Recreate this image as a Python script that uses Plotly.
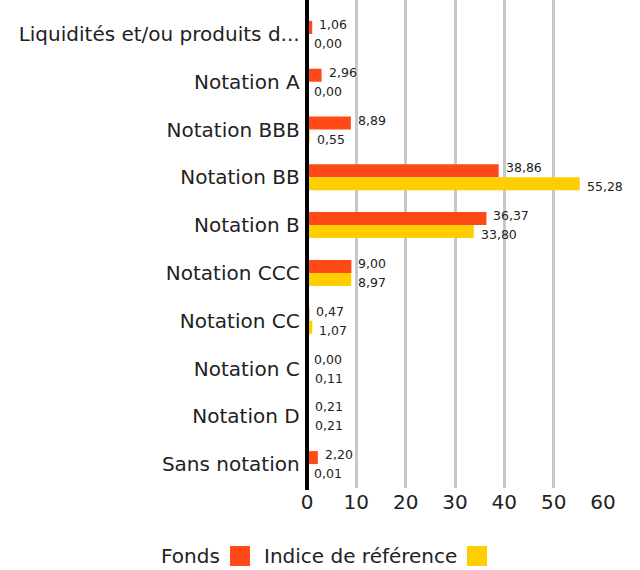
import plotly.graph_objects as go

categories = ["Liquidités et/ou produits d...", "Notation A", "Notation BBB", "Notation BB",
              "Notation B", "Notation CCC", "Notation CC", "Notation C", "Notation D", "Sans notation"]
fonds = [1.06, 2.96, 8.89, 38.86, 36.37, 9.00, 0.47, 0.00, 0.21, 2.20]
indice = [0.00, 0.00, 0.55, 55.28, 33.80, 8.97, 1.07, 0.11, 0.21, 0.01]
series_names = ["Fonds", "Indice de référence"]
colors = ["#FF4A17", "#FFCE00"]
x_ticks = [0, 10, 20, 30, 40, 50, 60]

FONT = "DejaVu Sans"
TXT = "#222222"

def fr(v):
    return f"{v:.2f}".replace(".", ",")

fig = go.Figure()
for name, vals, col in zip(series_names, [fonds, indice], colors):
    fig.add_trace(go.Bar(
        y=categories, x=vals, name=name, orientation="h",
        marker=dict(color=col, line=dict(width=0)),
        showlegend=False, hoverinfo="x+y",
    ))

# value labels next to each bar
for vals, ys in zip([fonds, indice], [9.5, -9.5]):
    for cat, v in zip(categories, vals):
        fig.add_annotation(x=v, y=cat, xref="x", yref="y", text=fr(v), showarrow=False,
                           xanchor="left", yanchor="middle", xshift=5, yshift=ys,
                           font=dict(size=12.5, color=TXT, family=FONT))

fig.update_layout(
    width=640, height=570,
    margin=dict(l=307, r=37, t=0, b=82),
    paper_bgcolor="white", plot_bgcolor="white",
    barmode="group", bargap=0.456, bargroupgap=0,
    font=dict(family=FONT, size=20, color=TXT),
)
fig.update_xaxes(range=[0, 60], tickvals=x_ticks, ticktext=[str(t) for t in x_ticks],
                 showgrid=True, gridcolor="#c8c8c8", gridwidth=3,
                 zeroline=False, showline=False, ticks="",
                 tickfont=dict(size=20, color=TXT))
fig.update_yaxes(range=[9.5, -0.71], showgrid=False, ticks="", showline=False,
                 zeroline=False, ticksuffix=" ", tickfont=dict(size=20, color=TXT))

H = 488.0
W = 296.0
def px_x(p):
    return (p - 307) / W
def px_y(p):
    return (H - p) / H

# thick zero line (paper-referenced so it is not clipped at the plot edge)
fig.add_shape(type="line", xref="paper", yref="paper", x0=0, x1=0, y0=px_y(490), y1=1,
              line=dict(color="black", width=4), layer="above")

# custom legend: text followed by colored square
fig.add_annotation(xref="paper", yref="paper", x=px_x(222), y=px_y(556), text=series_names[0],
                   showarrow=False, xanchor="right", yanchor="middle", font=dict(size=20))
fig.add_shape(type="rect", xref="paper", yref="paper",
              x0=px_x(230), x1=px_x(250), y0=px_y(566), y1=px_y(546),
              fillcolor=colors[0], line=dict(width=0))
fig.add_annotation(xref="paper", yref="paper", x=px_x(459), y=px_y(556), text=series_names[1],
                   showarrow=False, xanchor="right", yanchor="middle", font=dict(size=20))
fig.add_shape(type="rect", xref="paper", yref="paper",
              x0=px_x(467), x1=px_x(487), y0=px_y(566), y1=px_y(546),
              fillcolor=colors[1], line=dict(width=0))

fig.write_html("out.html", config={"displayModeBar": False},
               post_script="document.body.style.margin='0';")
